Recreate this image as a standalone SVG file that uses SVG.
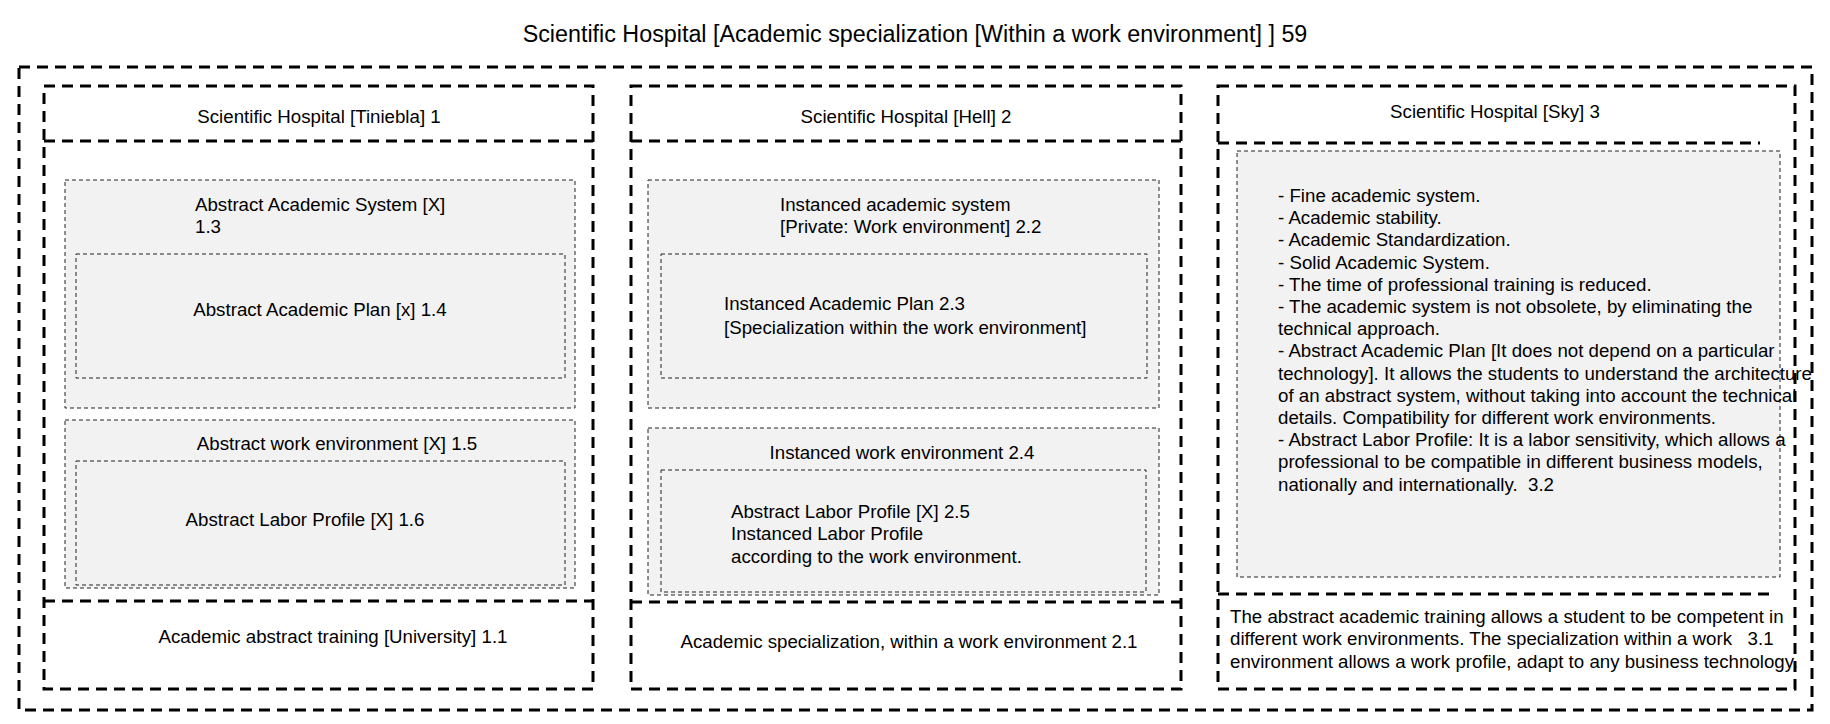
<svg xmlns="http://www.w3.org/2000/svg" width="1830" height="724" viewBox="0 0 1830 724">
<style>
  text { font-family: "Liberation Sans", Arial, sans-serif; fill: #000; }
  .title { font-size: 23.3px; }
  .t { font-size: 18.7px; }
  .c { text-anchor: middle; }
  .thick { fill: none; stroke: #000; stroke-width: 3; stroke-dasharray: 11 7; }
  .grey { fill: #f2f2f2; stroke: #222; stroke-width: 1; stroke-dasharray: 4 3; }
</style>
<rect width="1830" height="724" fill="#fff"/>
<g id="root">
  <text class="title c" x="915" y="42">Scientific Hospital [Academic specialization [Within a work environment] ] 59</text>
  <rect class="thick" x="19" y="67" width="1793" height="643"/>
</g>
<g id="col1">
  <rect class="thick" x="44" y="86" width="549" height="603"/>
  <line class="thick" x1="44" y1="141" x2="593" y2="141"/>
  <text class="t c" x="319" y="123">Scientific Hospital [Tiniebla] 1</text>
</g>
<g id="n13">
  <rect class="grey" x="65" y="180" width="510" height="228"/>
  <text class="t" x="195" y="211">Abstract Academic System [X]</text>
  <text class="t" x="195" y="233">1.3</text>
</g>
<g id="n14">
  <rect class="grey" x="76" y="254" width="489" height="124"/>
  <text class="t c" x="320" y="316">Abstract Academic Plan [x] 1.4</text>
</g>
<g id="n15">
  <rect class="grey" x="65" y="420" width="510" height="168"/>
  <text class="t c" x="337" y="450">Abstract work environment [X] 1.5</text>
</g>
<g id="n16">
  <rect class="grey" x="76" y="461" width="489" height="124"/>
  <text class="t c" x="305" y="526">Abstract Labor Profile [X] 1.6</text>
</g>
<g id="n11">
  <line class="thick" x1="44" y1="601" x2="593" y2="601"/>
  <text class="t c" x="333" y="643">Academic abstract training [University] 1.1</text>
</g>
<g id="col2">
  <rect class="thick" x="631" y="86" width="550" height="603"/>
  <line class="thick" x1="631" y1="141" x2="1181" y2="141"/>
  <text class="t c" x="906" y="123">Scientific Hospital [Hell] 2</text>
</g>
<g id="n22">
  <rect class="grey" x="648" y="180" width="511" height="228"/>
  <text class="t" x="780" y="211">Instanced academic system</text>
  <text class="t" x="780" y="233">[Private: Work environment] 2.2</text>
</g>
<g id="n23">
  <rect class="grey" x="661" y="254" width="486" height="124"/>
  <text class="t" x="724" y="310">Instanced Academic Plan 2.3</text>
  <text class="t" x="724" y="334">[Specialization within the work environment]</text>
</g>
<g id="n24">
  <rect class="grey" x="648" y="428" width="511" height="167"/>
  <text class="t c" x="902" y="459">Instanced work environment 2.4</text>
</g>
<g id="n25">
  <rect class="grey" x="661" y="470" width="485" height="122"/>
  <text class="t" x="731" y="518">Abstract Labor Profile [X] 2.5</text>
  <text class="t" x="731" y="540">Instanced Labor Profile</text>
  <text class="t" x="731" y="563">according to the work environment.</text>
</g>
<g id="n21">
  <line class="thick" x1="631" y1="602" x2="1181" y2="602"/>
  <text class="t c" x="909" y="648">Academic specialization, within a work environment 2.1</text>
</g>
<g id="col3">
  <rect class="thick" x="1218" y="86" width="577" height="603"/>
  <line class="thick" x1="1218" y1="143" x2="1760" y2="143"/>
  <text class="t c" x="1495" y="118">Scientific Hospital [Sky] 3</text>
</g>
<g id="n32">
  <rect class="grey" x="1237" y="151" width="543" height="426"/>
  <text class="t" x="1278" y="202">- Fine academic system.</text>
  <text class="t" x="1278" y="224.2">- Academic stability.</text>
  <text class="t" x="1278" y="246.4">- Academic Standardization.</text>
  <text class="t" x="1278" y="268.6">- Solid Academic System.</text>
  <text class="t" x="1278" y="290.8">- The time of professional training is reduced.</text>
  <text class="t" x="1278" y="313">- The academic system is not obsolete, by eliminating the</text>
  <text class="t" x="1278" y="335.2">technical approach.</text>
  <text class="t" x="1278" y="357.4">- Abstract Academic Plan [It does not depend on a particular</text>
  <text class="t" x="1278" y="379.6">technology]. It allows the students to understand the architecture</text>
  <text class="t" x="1278" y="401.8">of an abstract system, without taking into account the technical</text>
  <text class="t" x="1278" y="424">details. Compatibility for different work environments.</text>
  <text class="t" x="1278" y="446.2">- Abstract Labor Profile: It is a labor sensitivity, which allows a</text>
  <text class="t" x="1278" y="468.4">professional to be compatible in different business models,</text>
  <text class="t" x="1278" y="490.6" xml:space="preserve">nationally and internationally.  3.2</text>
</g>
<g id="n31">
  <line class="thick" x1="1218" y1="594" x2="1770" y2="594"/>
  <text class="t" x="1230" y="623">The abstract academic training allows a student to be competent in</text>
  <text class="t" x="1230" y="645" xml:space="preserve">different work environments. The specialization within a work   3.1</text>
  <text class="t" x="1230" y="668">environment allows a work profile, adapt to any business technology.</text>
</g>
<g id="connectors"/>
</svg>
